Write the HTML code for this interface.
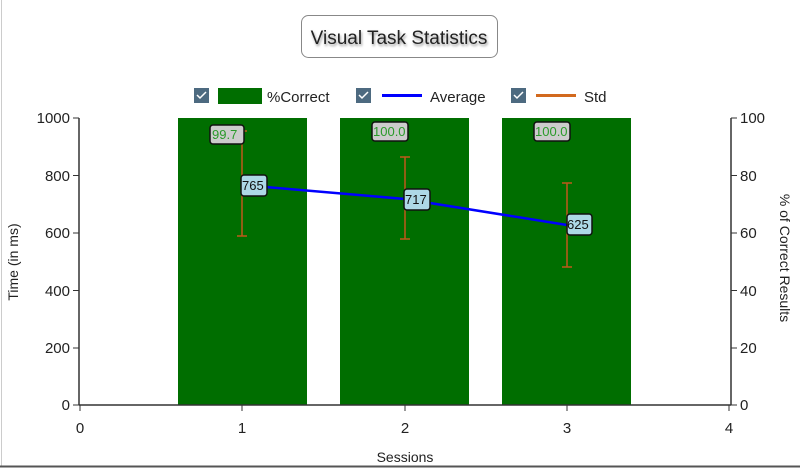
<!DOCTYPE html>
<html><head><style>body{margin:0;background:#fff}svg{display:block}text{font-family:"Liberation Sans",sans-serif}</style></head>
<body>
<svg width="800" height="469" xmlns="http://www.w3.org/2000/svg">
<line x1="1.5" y1="0" x2="1.5" y2="466" stroke="#ccc"/>
<line x1="0" y1="466.5" x2="800" y2="466.5" stroke="#555" stroke-width="2"/>
<defs><filter id="sh"><feGaussianBlur stdDeviation="1.2"/></filter></defs>
<rect x="301.5" y="15.5" width="196" height="42" rx="7" fill="#fff" stroke="#888"/>
<text x="400" y="46" font-size="19" text-anchor="middle" fill="#999" filter="url(#sh)">Visual Task Statistics</text>
<text x="399" y="44" font-size="19" text-anchor="middle" fill="#222">Visual Task Statistics</text>
<g font-size="15" fill="#222">
<rect x="194" y="88" width="15" height="15" fill="#4d6a80"/><path d="M197 95 l3 3 l6 -6" stroke="#fff" stroke-width="1.5" fill="none"/>
<rect x="218" y="88" width="44" height="16" fill="#006e00"/>
<text x="267" y="102">%Correct</text>
<rect x="356" y="88" width="15" height="15" fill="#4d6a80"/><path d="M359 95 l3 3 l6 -6" stroke="#fff" stroke-width="1.5" fill="none"/>
<line x1="382" y1="95.5" x2="422" y2="95.5" stroke="#0000ff" stroke-width="3"/>
<text x="430" y="102">Average</text>
<rect x="511" y="88" width="15" height="15" fill="#4d6a80"/><path d="M514 95 l3 3 l6 -6" stroke="#fff" stroke-width="1.5" fill="none"/>
<line x1="536" y1="95.5" x2="576" y2="95.5" stroke="#d2691e" stroke-width="3"/>
<text x="584" y="102">Std</text>
</g>
<rect x="178" y="118" width="129" height="287" fill="#006e00"/>
<rect x="340" y="118" width="129" height="287" fill="#006e00"/>
<rect x="502" y="118" width="129" height="287" fill="#006e00"/>
<g stroke="#333" stroke-width="1.5" fill="none">
<line x1="79" y1="118" x2="79" y2="405"/>
<line x1="731" y1="118" x2="731" y2="405"/>
<line x1="79" y1="405" x2="731" y2="405"/>
</g>
<g stroke="#333" stroke-width="1">
<line x1="73" y1="118" x2="79" y2="118"/><line x1="73" y1="175.5" x2="79" y2="175.5"/><line x1="73" y1="233" x2="79" y2="233"/><line x1="73" y1="290.5" x2="79" y2="290.5"/><line x1="73" y1="348" x2="79" y2="348"/><line x1="73" y1="405" x2="79" y2="405"/>
<line x1="731" y1="118" x2="737" y2="118"/><line x1="731" y1="175.5" x2="737" y2="175.5"/><line x1="731" y1="233" x2="737" y2="233"/><line x1="731" y1="290.5" x2="737" y2="290.5"/><line x1="731" y1="348" x2="737" y2="348"/><line x1="731" y1="405" x2="737" y2="405"/>
<line x1="80" y1="405" x2="80" y2="411"/><line x1="242" y1="405" x2="242" y2="411"/><line x1="405" y1="405" x2="405" y2="411"/><line x1="567" y1="405" x2="567" y2="411"/><line x1="729" y1="405" x2="729" y2="411"/>
</g>
<g font-size="15" fill="#222" text-anchor="end">
<text x="70" y="123">1000</text><text x="70" y="181">800</text><text x="70" y="238">600</text><text x="70" y="296">400</text><text x="70" y="353">200</text><text x="70" y="410">0</text>
</g>
<g font-size="15" fill="#222">
<text x="740" y="123">100</text><text x="740" y="181">80</text><text x="740" y="238">60</text><text x="740" y="296">40</text><text x="740" y="353">20</text><text x="740" y="410">0</text>
</g>
<g font-size="15" fill="#222" text-anchor="middle">
<text x="80" y="433">0</text><text x="242" y="433">1</text><text x="405" y="433">2</text><text x="567" y="433">3</text><text x="729" y="433">4</text>
<text x="405" y="462" font-size="14">Sessions</text>
<text transform="translate(18,262) rotate(-90)" font-size="14">Time (in ms)</text>
<text transform="translate(780,258) rotate(90)" font-size="14">% of Correct Results</text>
</g>
<g stroke="#c0581a" stroke-width="1.5">
<line x1="242" y1="131" x2="242" y2="236"/><line x1="237" y1="131" x2="247" y2="131"/><line x1="237" y1="236" x2="247" y2="236"/>
<line x1="405" y1="157" x2="405" y2="239"/><line x1="400" y1="157" x2="410" y2="157"/><line x1="400" y1="239" x2="410" y2="239"/>
<line x1="567" y1="183" x2="567" y2="267"/><line x1="562" y1="183" x2="572" y2="183"/><line x1="562" y1="267" x2="572" y2="267"/>
</g>
<polyline points="242,185 405,199 567,225" fill="none" stroke="#0000ff" stroke-width="2.5"/>
<g font-size="13" stroke-width="1.5">
<rect x="210" y="125" width="34" height="19" rx="3" fill="#ccc" stroke="#111"/><text x="212" y="139" fill="#2a9a2a">99.7</text>
<rect x="372" y="122" width="36" height="19" rx="3" fill="#ccc" stroke="#111"/><text x="373" y="136" fill="#2a9a2a">100.0</text>
<rect x="534" y="122" width="36" height="19" rx="3" fill="#ccc" stroke="#111"/><text x="535" y="136" fill="#2a9a2a">100.0</text>
<rect x="241" y="175" width="26" height="21" rx="3" fill="#add8e6" stroke="#111"/><text x="242" y="190" fill="#111">765</text>
<rect x="404" y="189" width="26" height="21" rx="3" fill="#add8e6" stroke="#111"/><text x="405" y="204" fill="#111">717</text>
<rect x="567" y="214" width="25" height="21" rx="3" fill="#add8e6" stroke="#111"/><text x="567" y="229" fill="#111">625</text>
</g>
</svg>
</body></html>
